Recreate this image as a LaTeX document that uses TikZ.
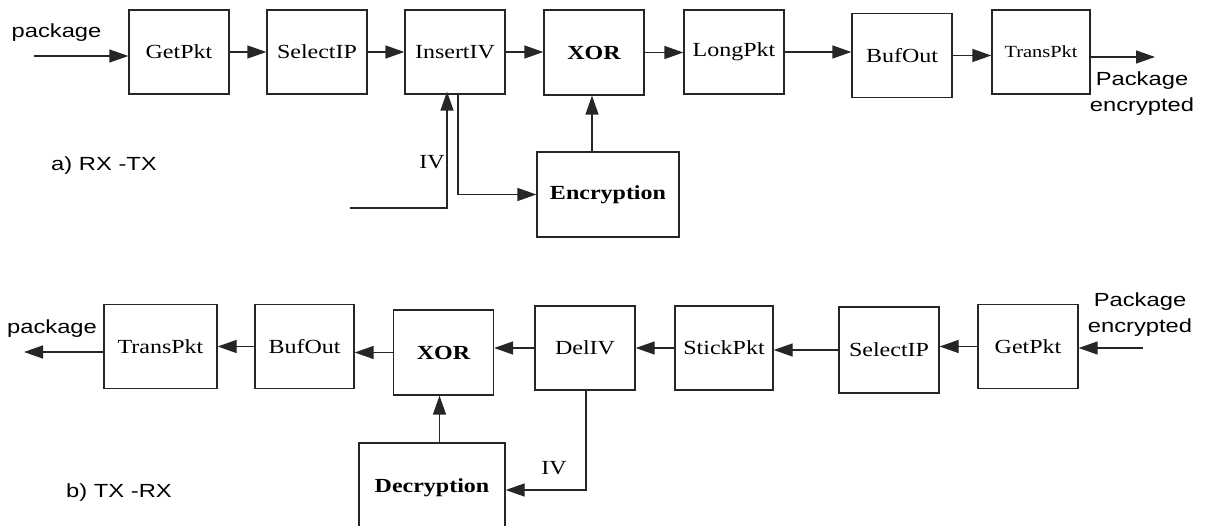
\documentclass[tikz,border=0pt]{standalone}
\usepackage{fontspec}
\setmainfont{Liberation Serif}[FakeStretch=1.2]
\newfontfamily\lblfont{Liberation Sans}[FakeStretch=1.25]
\usetikzlibrary{arrows.meta, calc}
\tikzset{
    blk/.style={draw=black!85, line width=1.3pt, minimum width=100pt, minimum height=84pt,
        inner sep=0pt, font=\fontsize{20}{22}\selectfont},
    bblk/.style={blk, font=\fontsize{20}{22}\selectfont\bfseries},
    flow/.style={draw=black!85, line width=1.3pt, -{Triangle[length=19pt,width=13pt]}},
    lbl/.style={font=\lblfont\fontsize{19}{26}\selectfont, align=center, inner sep=0pt},
    ivtxt/.style={font=\fontsize{20}{22}\selectfont, inner sep=0pt}
}

\begin{document}
\begin{tikzpicture}[x=1pt, y=-1pt]
    \path[use as bounding box, clip] (0,0) rectangle (1205,526);

    % a) RX -TX
    \node[blk] (get1) at (179,52) {GetPkt};
    \node[blk] (sel1) at (317,52) {SelectIP};
    \node[blk] (ins1) at (455,52) {InsertIV};
    \node[bblk, minimum height=85pt] (xor1) at (594,52.5) {XOR};
    \node[blk] (long1) at (734,52) {LongPkt};
    \node[blk] (buf1) at (902,55.5) {BufOut};
    \node[blk, minimum width=98pt, font=\fontsize{17}{19}\selectfont] (trans1) at (1041,52) {TransPkt};
    \node[bblk, minimum width=142pt, minimum height=85pt] (enc) at (608,194.5) {Encryption};

    \coordinate (in1) at (34,56);
    \coordinate (out1) at (1155,57);
    \coordinate (iv1) at (350,208);
    \draw[flow] (in1) -- (in1 -| get1.west);
    \foreach \a/\b in {get1/sel1, sel1/ins1, ins1/xor1, xor1/long1, long1/buf1, buf1/trans1}
        \draw[flow] (\a.east) -- (\a.east -| \b.west);
    \draw[flow] (trans1.east |- out1) -- (out1);
    \draw[flow] (iv1) -| ([xshift=-8pt, yshift=3pt]ins1.south);
    \draw[flow] ([xshift=3pt]ins1.south) |- (enc.west);
    \draw[flow] ([xshift=-2pt]xor1.south |- enc.north) -- ([xshift=-2pt]xor1.south);

    \node[lbl] (pkgin1) at (56.5,33) {package};
    \node[lbl] (pkgout1) at (1142,94) {Package\\encrypted};
    \node[lbl] (capa) at (104,166) {a) RX -TX};
    \node[ivtxt] (ivlbl1) at (432,162) {IV};

    % b) TX -RX
    \node[blk, minimum width=113pt] (trans2) at (160.5,346.5) {TransPkt};
    \node[blk, minimum width=99pt] (buf2) at (304.5,346.5) {BufOut};
    \node[bblk, minimum height=85pt] (xor2) at (443.5,352.5) {XOR};
    \node[blk] (del2) at (585,348) {DelIV};
    \node[blk, minimum width=98pt] (stick2) at (724,348) {StickPkt};
    \node[blk, minimum height=86pt] (sel2) at (889,350) {SelectIP};
    \node[blk] (get2) at (1028,346.5) {GetPkt};
    \node[bblk, minimum width=146pt, minimum height=90pt] (dec) at (432,488) {Decryption};

    \coordinate (in2) at (1143,348);
    \coordinate (out2) at (24,352);
    \draw[flow] (in2) -- (in2 -| get2.east);
    \foreach \a/\b in {get2/sel2, sel2/stick2, stick2/del2, del2/xor2, xor2/buf2, buf2/trans2}
        \draw[flow] (\a.west) -- (\a.west -| \b.east);
    \draw[flow] (trans2.west |- out2) -- (out2);
    \draw[flow] ([xshift=1pt]del2.south) |- ([yshift=-2pt]dec.east);
    \draw[flow] ([xshift=-4pt]xor2.south |- dec.north) -- ([xshift=-4pt]xor2.south);

    \node[lbl] (pkgin2) at (1140,315) {Package\\encrypted};
    \node[lbl] (pkgout2) at (52,329) {package};
    \node[lbl] (capb) at (119,493) {b) TX -RX};
    \node[ivtxt] (ivlbl2) at (554,468) {IV};
\end{tikzpicture}
\end{document}
